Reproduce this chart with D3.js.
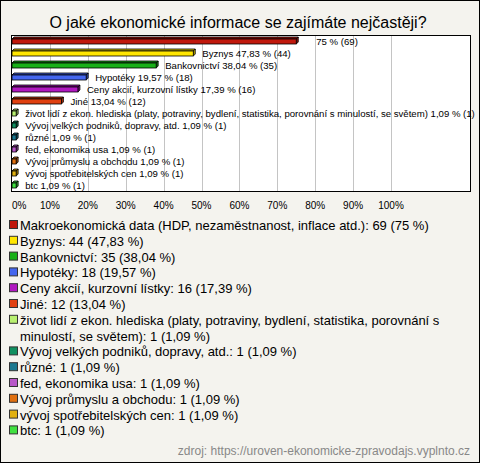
<!DOCTYPE html>
<html><head><meta charset="utf-8">
<script src="https://cdn.jsdelivr.net/npm/d3@7"></script>
<style>
html,body{margin:0;padding:0;background:#f4f3ee;}
svg{display:block;font-family:"Liberation Sans",Arial,sans-serif;}
</style></head>
<body>
<script>
const title = "O jaké ekonomické informace se zajímáte nejčastěji?";
const categories = [
  "Makroekonomická data (HDP, nezaměstnanost, inflace atd.)",
  "Byznys",
  "Bankovnictví",
  "Hypotéky",
  "Ceny akcií, kurzovní lístky",
  "Jiné",
  "život lidí z ekon. hlediska (platy, potraviny, bydlení, statistika, porovnání s minulostí, se světem)",
  "Vývoj velkých podniků, dopravy, atd.",
  "různé",
  "fed, ekonomika usa",
  "Vývoj průmyslu a obchodu",
  "vývoj spotřebitelských cen",
  "btc"
];
const counts = [69, 44, 35, 18, 16, 12, 1, 1, 1, 1, 1, 1, 1];
const percents = [75, 47.83, 38.04, 19.57, 17.39, 13.04, 1.09, 1.09, 1.09, 1.09, 1.09, 1.09, 1.09];
const barNameShown = [false, true, true, true, true, true, true, true, true, true, true, true, true];
const colors = ["#c0180c", "#ffe600", "#18b018", "#4466ee", "#b018c0", "#e04010",
  "#b8f070", "#109060", "#1a7890", "#b858c8", "#e07010", "#e0b010", "#40e040"];
const ticks = [0, 10, 20, 30, 40, 50, 60, 70, 80, 90, 100];
const source = "zdroj: https://uroven-ekonomicke-zpravodajs.vyplnto.cz";

const W = 480, H = 463;
const fmt = v => String(v).replace(".", ",");

const svg = d3.select("body").append("svg").attr("width", W).attr("height", H);
svg.append("rect").attr("x", 0.5).attr("y", 0.5).attr("width", W - 1).attr("height", H - 1)
  .attr("fill", "#f4f3ee").attr("stroke", "#000");

svg.append("text").attr("x", 238).attr("y", 28).attr("text-anchor", "middle")
  .attr("font-size", 16).attr("fill", "#000").text(title);

const plot = {x0: 11, x1: 470, y0: 35, y1: 191};
const x = d3.scaleLinear().domain([0, 100]).range([12, 391]);
const y = d3.scaleBand().domain(categories).range([plot.y0, plot.y1]);

svg.append("rect").attr("x", plot.x0 + 0.5).attr("y", plot.y0 + 0.5)
  .attr("width", plot.x1 - plot.x0).attr("height", plot.y1 - plot.y0)
  .attr("fill", "#fff").attr("stroke", "none");

svg.append("g").selectAll("line").data(ticks.filter(t => t > 0)).join("line")
  .attr("x1", d => Math.round(x(d)) + 0.5).attr("x2", d => Math.round(x(d)) + 0.5)
  .attr("y1", plot.y0).attr("y2", plot.y1).attr("stroke", "#c4c4c4");

svg.append("rect").attr("x", plot.x0 + 0.5).attr("y", plot.y0 + 0.5)
  .attr("width", plot.x1 - plot.x0).attr("height", plot.y1 - plot.y0)
  .attr("fill", "none").attr("stroke", "#000");

const d = 2, h = 5;
const bars = svg.append("g").selectAll("g").data(categories).join("g");
bars.each(function(c, i) {
  const g = d3.select(this);
  const x0 = x(0), x1 = x(percents[i]);
  const yc = y(c) + y.bandwidth() / 2;
  const top = yc - h / 2 + 0.5;
  const col = d3.color(colors[i]);
  g.append("polygon")
    .attr("points", [[x0, top], [x0 + d, top - d], [x1 + d, top - d], [x1, top]].join(" "))
    .attr("fill", col.darker(0.6)).attr("stroke", "#000").attr("stroke-width", 0.8);
  g.append("polygon")
    .attr("points", [[x1, top], [x1 + d, top - d], [x1 + d, top + h - d], [x1, top + h]].join(" "))
    .attr("fill", col.darker(0.9)).attr("stroke", "#000").attr("stroke-width", 0.8);
  g.append("rect").attr("x", x0).attr("y", top).attr("width", x1 - x0).attr("height", h)
    .attr("fill", col).attr("stroke", "#000").attr("stroke-width", 0.8);
  const lbl = (barNameShown[i] ? c + " " : "") + fmt(percents[i]) + " % (" + counts[i] + ")";
  g.append("text").attr("x", x1 + d + (barNameShown[i] ? 7 : 18)).attr("y", yc + 3.5)
    .attr("font-size", 9.6).attr("fill", "#000").text(lbl);
});

svg.append("g").selectAll("text").data(ticks).join("text")
  .attr("x", t => x(t))
  .attr("text-anchor", t => t === 0 ? "start" : "middle")
  .attr("y", 209).attr("font-size", 10).attr("fill", "#000")
  .text(t => t + "%");

// legend
const lg = svg.append("g");
let line = 0;
const lineH = 15.8, ly0 = 225, tx = 20, maxW = 445;
categories.forEach((c, i) => {
  const yc = ly0 + line * lineH;
  lg.append("rect").attr("x", 9.5).attr("y", yc - 4.5).attr("width", 8).attr("height", 8)
    .attr("fill", colors[i]).attr("stroke", "#333");
  const full = c + ": " + counts[i] + " (" + fmt(percents[i]) + " %)";
  const t = lg.append("text").attr("x", tx).attr("y", yc + 5).attr("font-size", 13).attr("fill", "#000");
  const words = full.split(" ");
  let cur = [], ts = t.append("tspan").attr("x", tx).attr("y", yc + 5);
  words.forEach(w => {
    cur.push(w);
    ts.text(cur.join(" "));
    if (ts.node().getComputedTextLength() > maxW - tx && cur.length > 1) {
      cur.pop(); ts.text(cur.join(" "));
      cur = [w]; line++;
      ts = t.append("tspan").attr("x", tx).attr("y", ly0 + line * lineH + 5).text(w);
    }
  });
  line++;
});

svg.append("text").attr("x", 470).attr("y", 455).attr("text-anchor", "end")
  .attr("font-size", 12).attr("fill", "#888").text(source);
</script>
</body></html>
